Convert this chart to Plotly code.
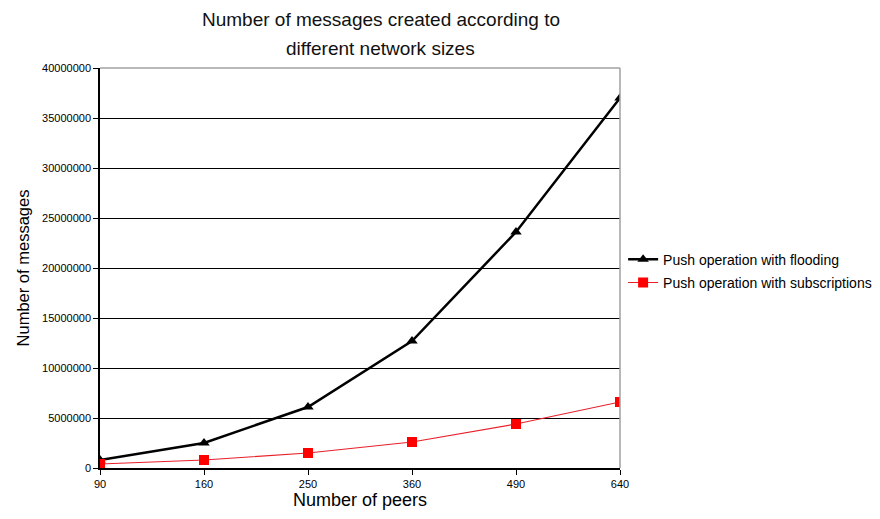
import plotly.graph_objects as go

# Network sizes (number of peers) and message counts per approach
peers = ["90", "160", "250", "360", "490", "640"]
flooding = [800000, 2500000, 6100000, 12700000, 23600000, 37000000]
subscriptions = [400000, 800000, 1500000, 2600000, 4400000, 6600000]
y_ticks = [0, 5000000, 10000000, 15000000, 20000000, 25000000, 30000000, 35000000, 40000000]
title_lines = ["Number of messages created according to", "different network sizes"]

font_family = "Liberation Sans, Arial, sans-serif"

fig = go.Figure()
fig.add_trace(go.Scatter(
    x=peers, y=flooding, name="Push operation with flooding",
    mode="lines+markers", legendgroup="flooding",
    line=dict(color="black", width=2.5),
    marker=dict(symbol="triangle-up", size=10, color="black"),
))
fig.add_trace(go.Scatter(
    x=peers, y=subscriptions, name="Push operation with subscriptions",
    mode="lines+markers", legendgroup="subscriptions",
    line=dict(color="#e8202a", width=1.2),
    marker=dict(symbol="square", size=10, color="#ff0000"),
))

# Two-line chart title, placed line by line above the plot area
title_annotations = [
    dict(
        text=line, xref="paper", yref="paper", x=0.54, y=yy,
        xanchor="center", yanchor="middle", showarrow=False,
        font=dict(size=19, family=font_family, color="#111111"),
    )
    for line, yy in zip(title_lines, [1.122, 1.048])
]

fig.update_layout(
    width=880, height=519,
    margin=dict(l=100, r=260, t=68, b=51, autoexpand=False),
    paper_bgcolor="white", plot_bgcolor="white",
    font=dict(family=font_family, color="black"),
    showlegend=True,
    legend=dict(
        x=1.006, xanchor="left", y=0.492, yanchor="middle",
        font=dict(size=14, family=font_family),
        bgcolor="rgba(0,0,0,0)", tracegroupgap=2,
        itemwidth=30,
    ),
    annotations=title_annotations,
    shapes=[
        dict(type="line", xref="paper", yref="paper", x0=0, x1=1, y0=1, y1=1,
             line=dict(color="#a0a0a0", width=1.5)),
        dict(type="line", xref="paper", yref="paper", x0=1, x1=1, y0=0, y1=1,
             line=dict(color="#a0a0a0", width=1.5)),
    ],
)

fig.update_xaxes(
    type="category", range=[0, len(peers) - 1],
    showline=True, linecolor="black", linewidth=1.5,
    ticks="outside", ticklen=5, tickcolor="black",
    showgrid=False, zeroline=False,
    tickfont=dict(size=11, family=font_family),
    title=dict(text="Number of peers", font=dict(size=18, family=font_family), standoff=2),
)
fig.update_yaxes(
    range=[0, 40000000], tickvals=y_ticks, tickformat="d",
    showline=True, linecolor="black", linewidth=1.5,
    ticks="outside", ticklen=5, tickcolor="black",
    showgrid=True, gridcolor="black", gridwidth=1,
    zeroline=False,
    tickfont=dict(size=11, family=font_family),
    title=dict(text="Number of messages", font=dict(size=16.5, family=font_family), standoff=8),
)

fig.write_html("out.html")
